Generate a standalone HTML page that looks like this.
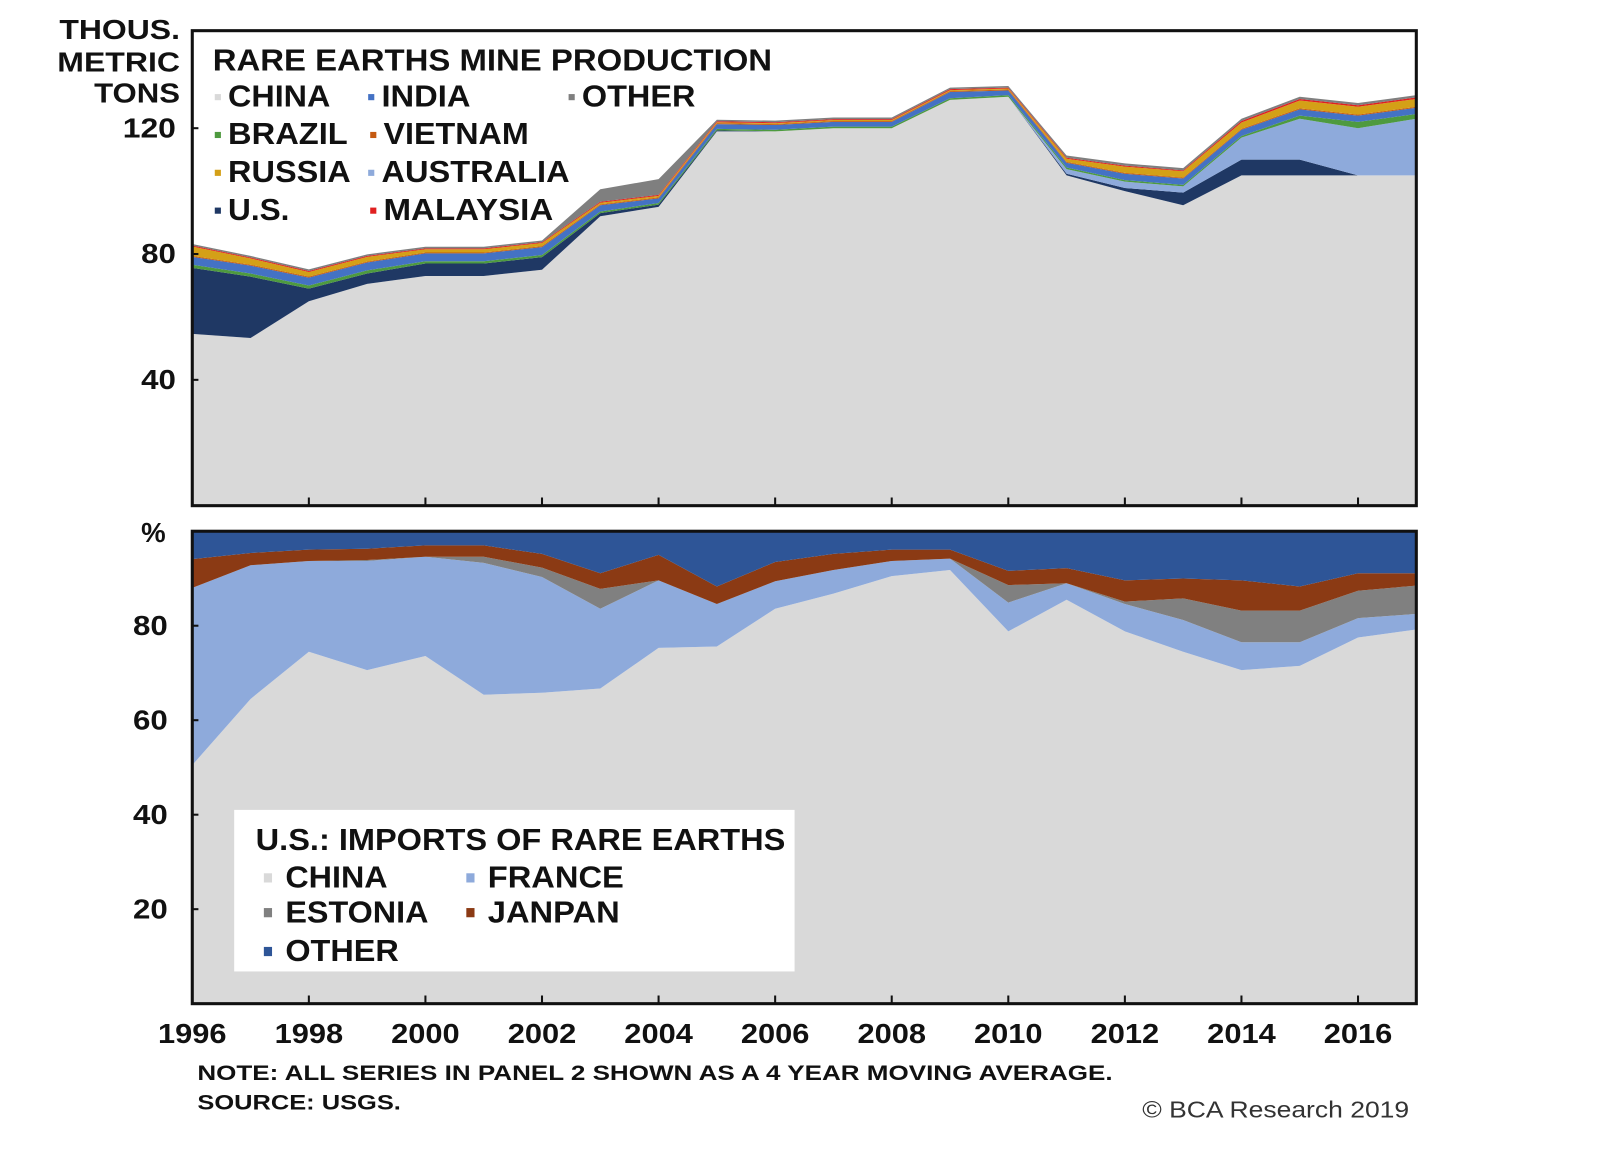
<!DOCTYPE html>
<html><head><meta charset="utf-8"><style>
html,body{margin:0;padding:0;background:#fff;}
svg{display:block;}
text{font-family:"Liberation Sans",Arial,sans-serif;font-weight:bold;fill:#111;}
</style></head><body>
<svg id="chart" width="1600" height="1150" viewBox="0 0 1564.6 1124.6">
<rect x="0" y="0" width="1564.6" height="1124.6" fill="#fff"/>
<g id="topPanel"></g>
<g id="botPanel"></g>
<g id="annPanel"></g>
</svg>
<script>
const years = [1996,1997,1998,1999,2000,2001,2002,2003,2004,2005,2006,2007,2008,2009,2010,2011,2012,2013,2014,2015,2016,2017];
const topNames = ["CHINA","U.S.","AUSTRALIA","BRAZIL","INDIA","VIETNAM","RUSSIA","MALAYSIA","OTHER"];
const topColors = ["#d9d9d9","#1f3864","#8eaadb","#4e9a3f","#4472c4","#c55a11","#d4a017","#e02020","#7f7f7f"];
const prodChina = [54.6,53.3,65,70.5,73,73,75,92,95,119,119,120,120,129,130,105,100,95.5,105,105,105,105];
const prodUS = [21,19.5,4,3.3,4,4,4,1,0.7,0.3,0,0,0,0,0,0.5,1,4,5,5,0,0];
const prodAustralia = [0,0,0,0,0,0,0,0,0,0,0,0,0,0,0,1.5,2,2,7,13,15,18];
const prodBrazil = [1,1,1,1,0.7,0.7,0.7,0.5,0.5,0.5,0.5,0.5,0.5,0.5,0.5,0.5,0.5,0.5,0.5,1,2,1.5];
const prodIndia = [2.5,2.5,2.5,2.5,2.5,2.5,2.5,2,1.5,1.5,1.5,1.5,1.5,2,1.5,1.5,2,2,2,2,2,2];
const prodVietnam = [0.3,0.3,0.3,0.3,0.3,0.3,0.3,0.3,0.3,0.3,0.3,0.3,0.3,0.3,0.3,0.3,0.3,0.3,0.3,0.3,0.3,0.3];
const prodRussia = [3,2,1.5,1.5,1,1,1,0.5,0.5,0.3,0.3,0.3,0.3,0.3,0.3,1,2,2,2,2.5,2.5,2.5];
const prodMalaysia = [0.3,0.3,0.3,0.3,0.3,0.3,0.3,0.3,0.3,0.3,0.3,0.3,0.3,0.3,0.3,0.3,0.3,0.3,0.5,0.5,0.5,0.5];
const prodOther = [0.5,0.5,0.5,0.5,0.5,0.5,0.5,4,5,0.5,0.5,0.5,0.5,0.5,0.5,0.7,0.7,0.7,0.7,0.7,0.7,0.7];
const botNames = ["CHINA","FRANCE","ESTONIA","JANPAN","OTHER"];
const botColors = ["#d9d9d9","#8eaadb","#808080","#8b3a14","#2e5597"];
const impChina = [50.5,64.5,74.5,70.6,73.6,65.4,65.8,66.7,75.3,75.6,83.6,86.8,90.5,91.8,78.8,85.5,78.8,74.5,70.6,71.5,77.5,79.2];
const impFrance = [37.5,28.3,19.2,23.1,21.0,27.9,24.5,16.9,14.3,9.0,5.8,5.0,3.2,2.4,6.1,3.5,5.8,6.7,5.9,5.0,4.1,3.3];
const impEstonia = [0,0,0,0.2,0,1.3,2.0,4.2,0,0,0,0,0,0,3.7,0,0.5,4.6,6.7,6.7,5.8,6.0];
const impJapan = [6.1,2.6,2.4,2.4,2.4,2.4,2.9,3.3,5.4,3.7,4.1,3.4,2.4,1.9,3.0,3.2,4.5,4.2,6.4,5.1,3.7,2.6];
const impOther = [5.9,4.6,3.9,3.7,3.0,3.0,4.8,8.9,5.0,11.7,6.5,4.8,3.9,3.9,8.4,7.8,10.4,10.0,10.4,11.7,8.9,8.9];
const topTicks = [40,80,120];
const botTicks = [20,40,60,80];
const xTickLabels = [1996,1998,2000,2002,2004,2006,2008,2010,2012,2014,2016];

const NS="http://www.w3.org/2000/svg";
function mk(tag,attrs,parent){const e=document.createElementNS(NS,tag);for(const k in attrs)e.setAttribute(k,attrs[k]);parent.appendChild(e);return e;}
const X0=188,X1=1385;
const xS=y=>X0+(y-1996)*(X1-X0)/(2017-1996);
const topY0=494.5,topY1=30,topMax=151;
const yT=v=>topY0-v*(topY0-topY1)/topMax;
const botY0=981.5,botY1=519.5;
const yB=v=>botY0-v*(botY0-botY1)/100;

function stack(g,series,colors,names,yf){
  let base=years.map(()=>0);
  series.forEach((s,i)=>{
    const cum=base.map((b,j)=>b+s[j]);
    let d="M"+years.map((yr,j)=>xS(yr)+","+yf(cum[j])).join("L");
    for(let j=years.length-1;j>=0;j--) d+="L"+xS(years[j])+","+yf(base[j]);
    const p=mk("path",{d:d+"Z",fill:colors[i]},g);
    
    
    base=cum;
  });
}
const gTop=document.getElementById('topPanel'), gBot=document.getElementById('botPanel'), gAnn=document.getElementById('annPanel');
mk("rect",{x:X0,y:topY1,width:X1-X0,height:topY0-topY1,fill:"#fff"},gTop);
stack(gTop,[prodChina,prodUS,prodAustralia,prodBrazil,prodIndia,prodVietnam,prodRussia,prodMalaysia,prodOther],topColors,topNames,yT);
const f1=mk("rect",{x:X0,y:topY1,width:X1-X0,height:topY0-topY1,fill:"none",stroke:"#111","stroke-width":3},gTop);


stack(gBot,[impChina,impFrance,impEstonia,impJapan,impOther],botColors,botNames,yB);
const f2=mk("rect",{x:X0,y:botY1,width:X1-X0,height:botY0-botY1,fill:"none",stroke:"#111","stroke-width":3},gBot);



for(let yr=1998;yr<=2016;yr+=2){
  mk("line",{x1:xS(yr),x2:xS(yr),y1:topY0,y2:topY0-8,stroke:"#111","stroke-width":2},gTop);
  mk("line",{x1:xS(yr),x2:xS(yr),y1:botY0,y2:botY0-8,stroke:"#111","stroke-width":2},gBot);
}
function txt(s,x,y,size,name,anchor,len){const a={x:x,y:y,"font-size":size,"text-anchor":anchor||"start"};
  if(len){a.textLength=len;a.lengthAdjust="spacingAndGlyphs";}
  const t=mk("text",a,gAnn);t.textContent=s;
  
  
  return t;}
xTickLabels.forEach(v=>{ txt(String(v),xS(v),1020,27,"x-tick-label","middle",67); });
topTicks.forEach(v=>{
  mk("line",{x1:X0,x2:X0+6,y1:yT(v),y2:yT(v),stroke:"#111","stroke-width":2},gTop);
  txt(String(v),172,yT(v)+9,27,"top-y-tick-label","end",v>=100?52:34);
});
botTicks.forEach(v=>{
  mk("line",{x1:X0,x2:X0+6,y1:yB(v),y2:yB(v),stroke:"#111","stroke-width":2},gBot);
  txt(String(v),164,yB(v)+9,27,"bottom-y-tick-label","end",34);
});
txt("THOUS.",176,38,27,"top-y-axis-title","end",118);
txt("METRIC",176,70,27,"top-y-axis-title","end",120);
txt("TONS",176,100,27,"top-y-axis-title","end",84);
txt("%",162,530,27,"bottom-y-axis-title","end");
txt("RARE EARTHS MINE PRODUCTION",208,69,30,"top-legend-title","start",547);
const tl=[["CHINA",210,104,0,100],["INDIA",360,104,4,87],["OTHER",556,104,8,111],["BRAZIL",210,141,3,117],["VIETNAM",362,141,5,142],["RUSSIA",210,178,6,120],["AUSTRALIA",360,178,2,184],["U.S.",210,215,1,60],["MALAYSIA",362,215,7,166]];
tl.forEach(([n,x,y,c,w])=>{
  const r=mk("rect",{x:x,y:y-12,width:6,height:6,fill:topColors[c]},gAnn);
  
  
  txt(n,x+13,y,30,"legend-entry","start",w);
});
const lb=mk("rect",{x:229,y:792,width:548,height:158,fill:"#fff"},gAnn);


txt("U.S.: IMPORTS OF RARE EARTHS",250,831,30,"bottom-legend-title","start",518);
const bl=[["CHINA",258,868,0,100],["FRANCE",456,868,1,133],["ESTONIA",258,902,2,140],["JANPAN",456,902,3,129],["OTHER",258,940,4,111]];
bl.forEach(([n,x,y,c,w])=>{
  const r=mk("rect",{x:x,y:y-14,width:8,height:9,fill:botColors[c]},gAnn);
  
  
  txt(n,x+21,y,30,"legend-entry","start",w);
});
txt("NOTE: ALL SERIES IN PANEL 2 SHOWN AS A 4 YEAR MOVING AVERAGE.",193,1056,21,"note-text","start",895);
txt("SOURCE: USGS.",193,1085,21,"source-text","start",199);
const c=txt("© BCA Research 2019",1378,1093,23,"copyright-text","end",261);c.style.fontWeight="normal";c.style.fill="#333";
</script>
</body></html>
